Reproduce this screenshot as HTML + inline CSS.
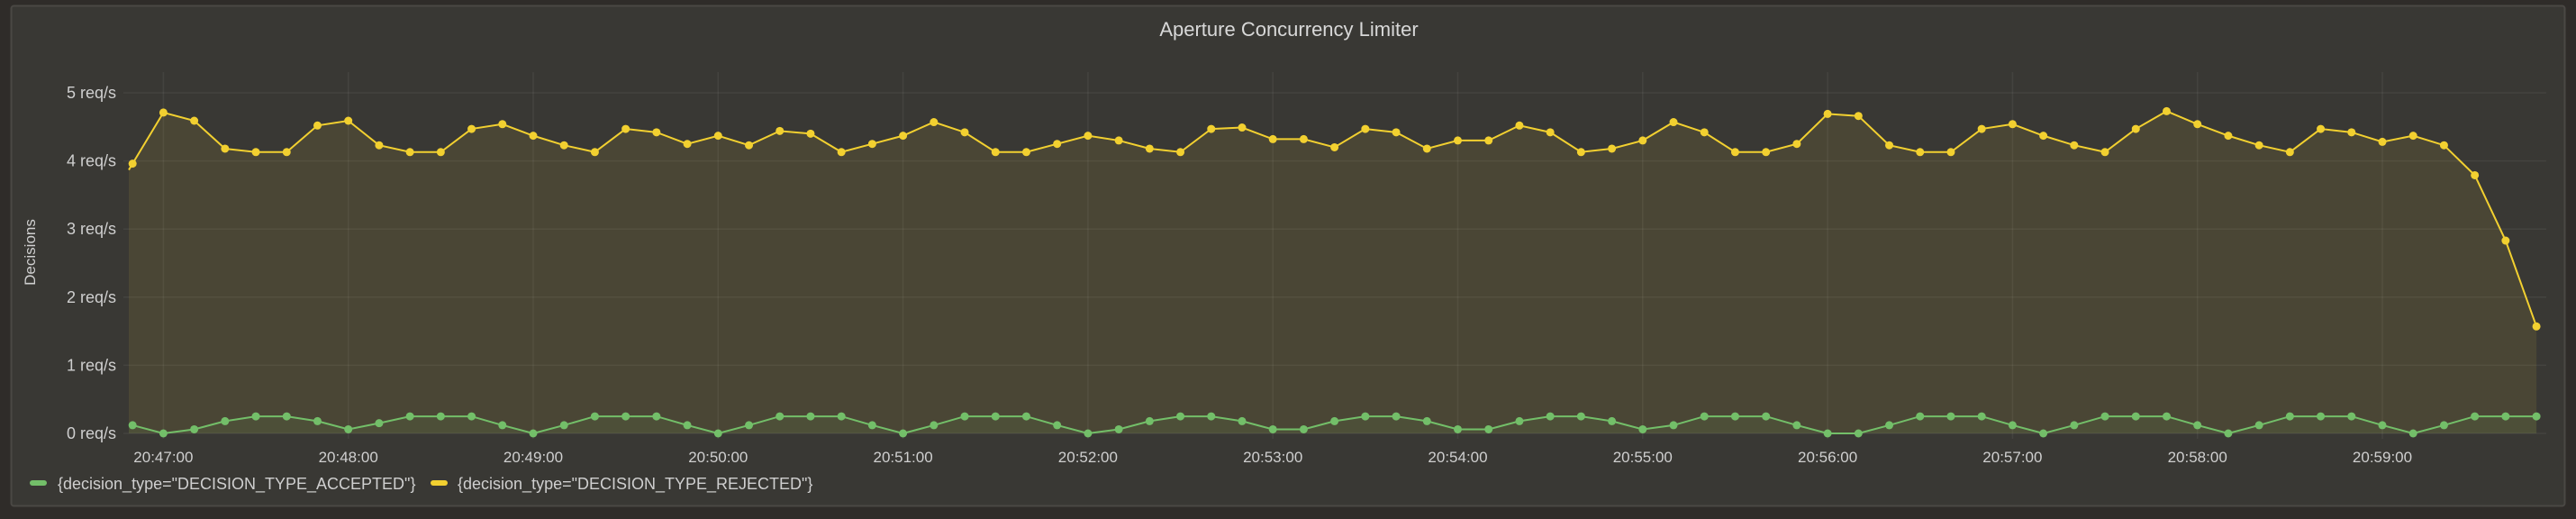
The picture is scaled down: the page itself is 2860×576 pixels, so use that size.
<!DOCTYPE html>
<html><head><meta charset="utf-8"><style>
html,body{margin:0;padding:0;background:#2f2c29;width:2860px;height:576px;overflow:hidden}
svg{display:block;font-family:"Liberation Sans",sans-serif}
</style></head><body>
<svg id="chart" width="2860" height="576">
<rect x="12.5" y="6.5" width="2835" height="555" rx="3" fill="#393834" stroke="#4a4844" stroke-width="2"/>
<text x="1431" y="40" text-anchor="middle" font-size="22" fill="#d8d8d8">Aperture Concurrency Limiter</text>
<text transform="translate(39,280) rotate(-90)" text-anchor="middle" font-size="17" fill="#cfcfcf">Decisions</text>
<g id="grid"></g><g id="areas"></g><g id="lines"></g><g id="axes"></g>
<g>
<rect x="33" y="533" width="19" height="6" rx="3" fill="#73bf69"/>
<text x="64" y="543" font-size="18" fill="#cfcfcf">{decision_type="DECISION_TYPE_ACCEPTED"}</text>
<rect x="478" y="533" width="19" height="6" rx="3" fill="#f2d030"/>
<text x="508" y="543" font-size="18" fill="#cfcfcf">{decision_type="DECISION_TYPE_REJECTED"}</text>
</g>
</svg>
<script>
const yTicks=[0,1,2,3,4,5];
const xTickLabels=["20:47:00","20:48:00","20:49:00","20:50:00","20:51:00","20:52:00","20:53:00","20:54:00","20:55:00","20:56:00","20:57:00","20:58:00","20:59:00"];
const accepted=[0.12,0,0.06,0.18,0.25,0.25,0.18,0.06,0.15,0.25,
0.25,0.25,0.12,0,0.12,0.25,0.25,0.25,0.12,0,
0.12,0.25,0.25,0.25,0.12,0,0.12,0.25,0.25,0.25,
0.12,0,0.06,0.18,0.25,0.25,0.18,0.06,0.06,0.18,
0.25,0.25,0.18,0.06,0.06,0.18,0.25,0.25,0.18,0.06,
0.12,0.25,0.25,0.25,0.12,0,0,0.12,0.25,0.25,
0.25,0.12,0,0.12,0.25,0.25,0.25,0.12,0,0.12,
0.25,0.25,0.25,0.12,0,0.12,0.25,0.25,0.25];
const rejected=[3.96,4.71,4.59,4.18,4.13,4.13,4.52,4.59,4.23,4.13,
4.13,4.47,4.54,4.37,4.23,4.13,4.47,4.42,4.25,4.37,
4.23,4.44,4.40,4.13,4.25,4.37,4.57,4.42,4.13,4.13,
4.25,4.37,4.30,4.18,4.13,4.47,4.49,4.32,4.32,4.20,
4.47,4.42,4.18,4.30,4.30,4.52,4.42,4.13,4.18,4.30,
4.57,4.42,4.13,4.13,4.25,4.69,4.66,4.23,4.13,4.13,
4.47,4.54,4.37,4.23,4.13,4.47,4.73,4.54,4.37,4.23,
4.13,4.47,4.42,4.28,4.37,4.23,3.79,2.83,1.57];
const NS="http://www.w3.org/2000/svg";
const L=143,R=2827,Y0=481,YU=75.6;
const x0=181.4,stepMin=205.3;
const xs=i=>x0+(i-1)*stepMin/6;
const ys=v=>Y0-v*YU;
function mk(tag,attrs,parent){const e=document.createElementNS(NS,tag);for(const k in attrs)e.setAttribute(k,attrs[k]);document.getElementById(parent).appendChild(e);return e;}
yTicks.forEach(t=>{
 const g=mk('line',{x1:L-6,x2:R,y1:ys(t),y2:ys(t),stroke:'rgba(255,255,255,0.06)','stroke-width':1.5},'grid');
 
 
 const tx=mk('text',{x:129,y:ys(t)+6,'text-anchor':'end','font-size':18,fill:'#cfcfcf'},'axes');
 tx.textContent=t+' req/s';
 
 
});
xTickLabels.forEach((lab,k)=>{
 const x=x0+k*stepMin;
 const g=mk('line',{x1:x,x2:x,y1:80,y2:487,stroke:'rgba(255,255,255,0.06)','stroke-width':1.5},'grid');
 
 
 const tx=mk('text',{x:x,y:513,'text-anchor':'middle','font-size':17,fill:'#cfcfcf'},'axes');
 tx.textContent=lab;
 
 
});
function series(vals,color,fillColor,op,name){
 const pts=vals.map((v,i)=>[xs(i),ys(v)]);
 const first=pts[0],last=pts[pts.length-1];
 const y0e=first[1]+(first[1]-pts[1][1])*(first[0]-L)/(pts[1][0]-first[0]);
 const d='M'+L+','+Y0+' L'+L+','+y0e+' '+pts.map(p=>'L'+p[0]+','+p[1]).join(' ')+' L'+last[0]+','+Y0+' Z';
 const a=mk('path',{d:d,fill:fillColor,'fill-opacity':op},'areas');
 
 
 const ld='M'+L+','+y0e+' '+pts.map(p=>'L'+p[0]+','+p[1]).join(' ');
 const l=mk('path',{d:ld,fill:'none',stroke:color,'stroke-width':2},'lines');
 
 
 pts.forEach(p=>{
  const c=mk('circle',{cx:p[0],cy:p[1],r:4.5,fill:color},'lines');
  
  
 });
}
series(rejected,'#f2d030','#e0c040',0.1,'rejected');
series(accepted,'#73bf69','#73bf69',0.08,'accepted');
</script>
</body></html>
